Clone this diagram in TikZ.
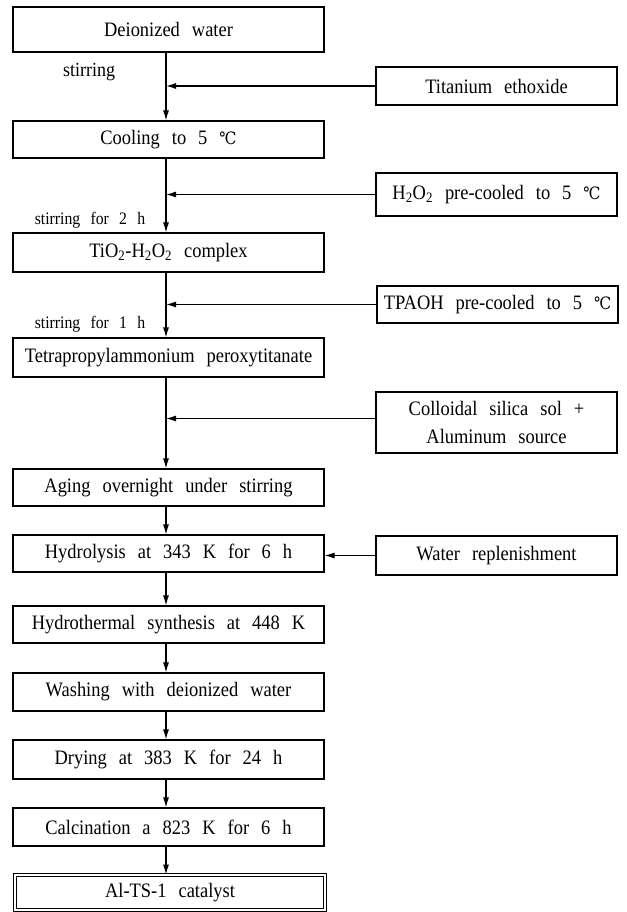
\documentclass[tikz,border=0pt]{standalone}
\usepackage{fontspec}
\setmainfont{Liberation Serif}[WordSpace=2.6, FakeStretch=0.9]
\newfontfamily\degf{DejaVu Serif}[FakeStretch=0.9]
\newcommand\dgc{{\degf\fontsize{17}{20}\selectfont ℃}}
\usetikzlibrary{arrows.meta}
\begin{document}
\begin{tikzpicture}[x=1pt,y=-1pt,
  base/.style={draw=black, line width=1.1pt, inner sep=1pt, align=center,
    font=\fontsize{20.5}{28}\selectfont},
  proc/.style={base, minimum width=311pt},
  feed/.style={base, minimum width=241pt},
  lab/.style={inner sep=0pt, font=\fontsize{17.5}{20}\selectfont},
  arr/.style={line width=1.1pt, -{Latex[length=10pt,width=6pt]}}]
\useasboundingbox (0,0) rectangle (626,912);
\coordinate (sx) at (166,0);
% main column
\node[proc, minimum height=45pt] (dw)   at (168.5,29.5)  {Deionized water};
\node[proc, minimum height=37pt] (cool) at (168.5,139.5) {Cooling to 5 \dgc};
\node[proc, minimum height=39pt] (tio)  at (168.5,252.5) {TiO\textsubscript{2}-H\textsubscript{2}O\textsubscript{2} complex};
\node[proc, minimum height=39pt] (tpa)  at (168.5,357.5) {Tetrapropylammonium peroxytitanate};
\node[proc, minimum height=37pt] (age)  at (168.5,487.5) {Aging overnight under stirring};
\node[proc, minimum height=37pt] (hyd)  at (168.5,553.5) {Hydrolysis at 343 K for 6 h};
\node[proc, minimum height=37pt] (hts)  at (168.5,624.5) {Hydrothermal synthesis at 448 K};
\node[proc, minimum height=38pt] (wash) at (168.5,692)   {Washing with deionized water};
\node[proc, minimum height=39pt] (dry)  at (168.5,759.5) {Drying at 383 K for 24 h};
\node[proc, minimum height=38pt] (calc) at (168.5,827)   {Calcination a 823 K for 6 h};
\node[base, minimum width=310pt, minimum height=35pt, double, double distance=2.4pt, line width=0.9pt] (cat) at (170,892.5) {Al-TS-1 catalyst};
% feeds
\node[feed, minimum height=38pt] (ti)    at (496.5,86)    {Titanium ethoxide};
\node[feed, minimum height=43pt] (h2o2)  at (496.5,194.5) {H\textsubscript{2}O\textsubscript{2} pre-cooled to 5 \dgc};
\node[feed, minimum height=37pt] (tpaoh) at (497.5,304.5) {TPAOH pre-cooled to 5 \dgc};
\node[feed, minimum height=61pt] (col)   at (496.5,422.5) {Colloidal silica sol +\\Aluminum source};
\node[feed, minimum height=39pt] (wat)   at (496.5,555.5) {Water replenishment};
% labels
\node[lab, font=\fontsize{20}{22}\selectfont] (l1) at (89,72) {stirring};
\node[lab] (l2) at (90,220) {stirring for 2 h};
\node[lab] (l3) at (90,324) {stirring for 1 h};
% spine arrows
\draw[arr] (dw.south -| sx) -- (cool.north -| sx);
\draw[arr] (cool.south -| sx) -- (tio.north -| sx);
\draw[arr] (tio.south -| sx) -- (tpa.north -| sx);
\draw[arr] (tpa.south -| sx) -- (age.north -| sx);
\draw[arr] (age.south -| sx) -- (hyd.north -| sx);
\draw[arr] (hyd.south -| sx) -- (hts.north -| sx);
\draw[arr] (hts.south -| sx) -- (wash.north -| sx);
\draw[arr] (wash.south -| sx) -- (dry.north -| sx);
\draw[arr] (dry.south -| sx) -- (calc.north -| sx);
\draw[arr] (calc.south -| sx) -- (cat.north -| sx);
% feed arrows
\draw[arr] (ti.west) -- (ti.west -| sx);
\draw[arr] (h2o2.west) -- (h2o2.west -| sx);
\draw[arr] (tpaoh.west) -- (tpaoh.west -| sx);
\draw[arr] ([yshift=4pt]col.west) -- ([yshift=4pt]col.west -| sx);
\draw[arr] (wat.west) -- (hyd.east |- wat.west);
\end{tikzpicture}
\end{document}
